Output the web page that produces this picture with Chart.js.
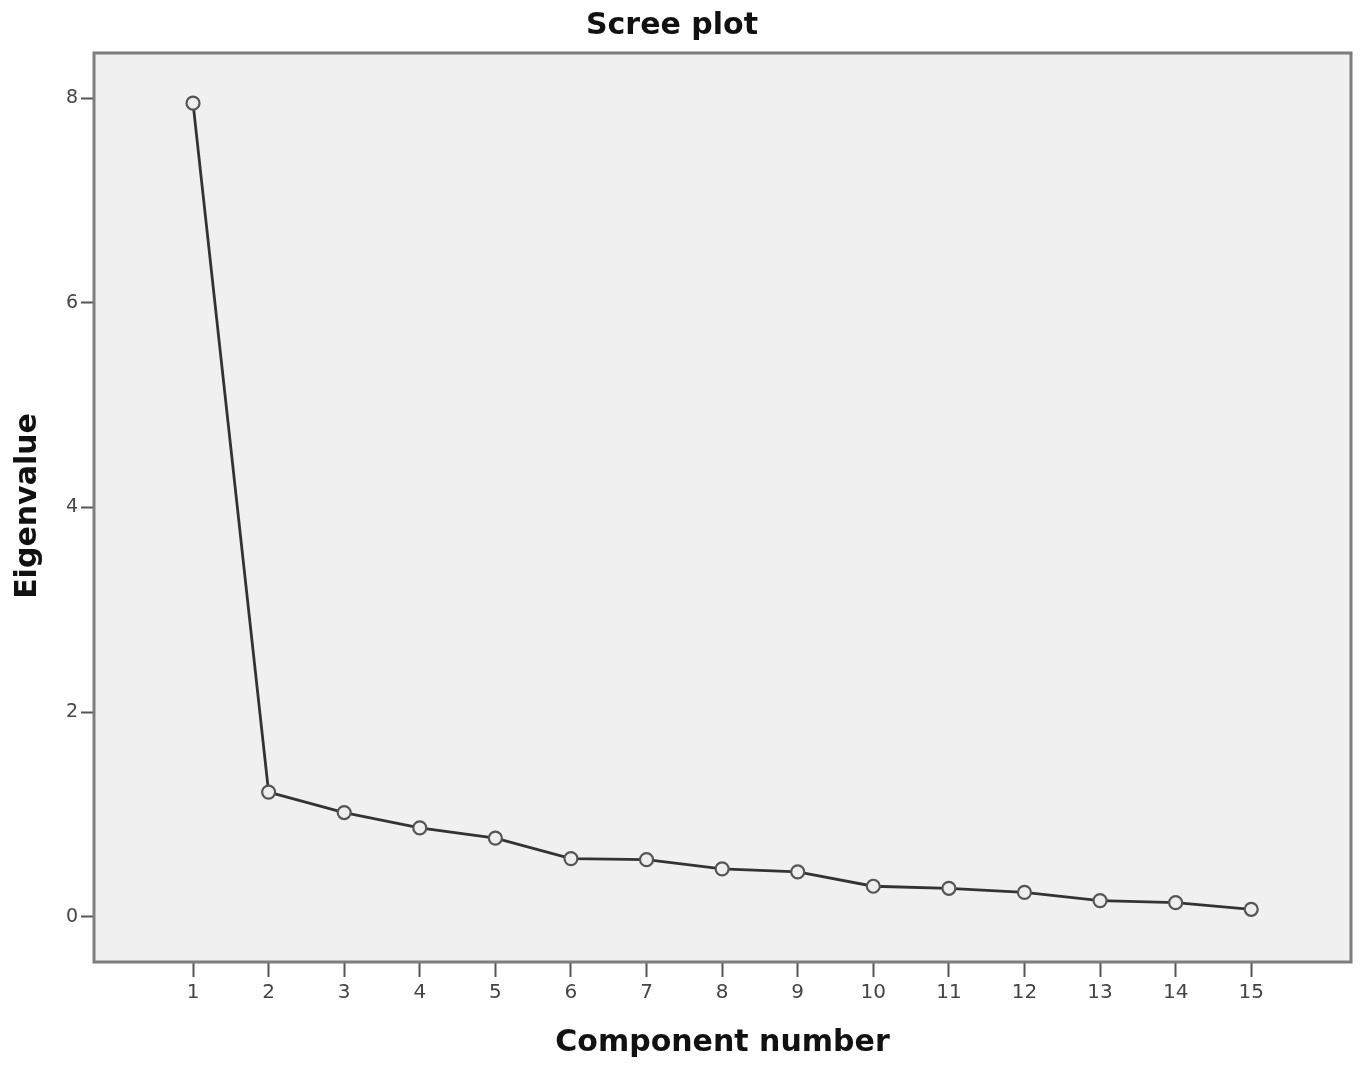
<!DOCTYPE html>
<html>
<head>
<meta charset="utf-8">
<script src="https://cdn.jsdelivr.net/npm/chart.js@4.4.1/dist/chart.umd.min.js"></script>
<style>
html,body{margin:0;padding:0;background:#fff;}
#wrap{width:1362px;height:1066px;position:relative;}
</style>
</head>
<body>
<div id="wrap"><canvas id="c" width="1362" height="1066"></canvas></div>
<script>
const components = [1,2,3,4,5,6,7,8,9,10,11,12,13,14,15];
const eigenvalues = [7.95,1.22,1.02,0.87,0.77,0.57,0.56,0.47,0.44,0.30,0.28,0.24,0.16,0.14,0.075];
const xTickValues = [1,2,3,4,5,6,7,8,9,10,11,12,13,14,15];
const yTickValues = [0,2,4,6,8];
const chartTitle = 'Scree plot';
const xTitle = 'Component number';
const yTitle = 'Eigenvalue';

const frame = {
  id: 'frame',
  beforeDatasetsDraw(chart) {
    const {ctx, chartArea: a} = chart;
    ctx.save();
    ctx.fillStyle = '#f0f0f0';
    ctx.fillRect(a.left, a.top, a.right - a.left, a.bottom - a.top);
    ctx.restore();
  },
  afterDraw(chart) {
    const {ctx, chartArea: a} = chart;
    ctx.save();
    ctx.strokeStyle = '#7d7d7d';
    ctx.lineWidth = 3;
    ctx.strokeRect(a.left, a.top, a.right - a.left, a.bottom - a.top);
    ctx.fillStyle = '#111';
    ctx.font = 'bold 30px "DejaVu Sans"';
    ctx.textAlign = 'center';
    ctx.textBaseline = 'middle';
    ctx.fillText(chartTitle, 672, 26);
    ctx.fillText(xTitle, (a.left + a.right) / 2, 1043);
    ctx.translate(28, 506);
    ctx.rotate(-Math.PI / 2);
    ctx.fillText(yTitle, 0, 0);
    ctx.restore();
  }
};

new Chart(document.getElementById('c'), {
  type: 'scatter',
  data: {
    datasets: [{
      data: components.map((c, i) => ({x: c, y: eigenvalues[i]})),
      showLine: true,
      borderColor: '#333',
      borderWidth: 2.8,
      pointRadius: 6.5,
      pointBorderWidth: 2.2,
      pointBorderColor: '#555',
      pointBackgroundColor: '#eeeeee',
      pointStyle: 'circle'
    }]
  },
  options: {
    responsive: false,
    animation: false,
    devicePixelRatio: 1,
    layout: {padding: {top: 53, right: 11, left: 0, bottom: 0}},
    plugins: {legend: {display: false}, tooltip: {enabled: false}, title: {display: false}},
    scales: {
      x: {
        type: 'linear',
        min: -0.31,
        max: 16.32,
        afterBuildTicks(s) { s.ticks = xTickValues.map(v => ({value: v})); },
        afterFit(s) { s.height = 104; },
        grid: {drawOnChartArea: false, drawTicks: true, tickLength: 15, tickColor: '#555', tickWidth: 2},
        border: {display: false},
        ticks: {color: '#444', font: {family: 'DejaVu Sans', size: 20}, padding: 4, autoSkip: false, maxRotation: 0}
      },
      y: {
        type: 'linear',
        min: -0.44,
        max: 8.44,
        afterBuildTicks(s) { s.ticks = yTickValues.map(v => ({value: v})); },
        afterFit(s) { s.width = 94; },
        grid: {drawOnChartArea: false, drawTicks: true, tickLength: 13, tickColor: '#555', tickWidth: 2},
        border: {display: false},
        ticks: {color: '#444', font: {family: 'DejaVu Sans', size: 19}, padding: 3}
      }
    }
  },
  plugins: [frame]
});
</script>
</body>
</html>
